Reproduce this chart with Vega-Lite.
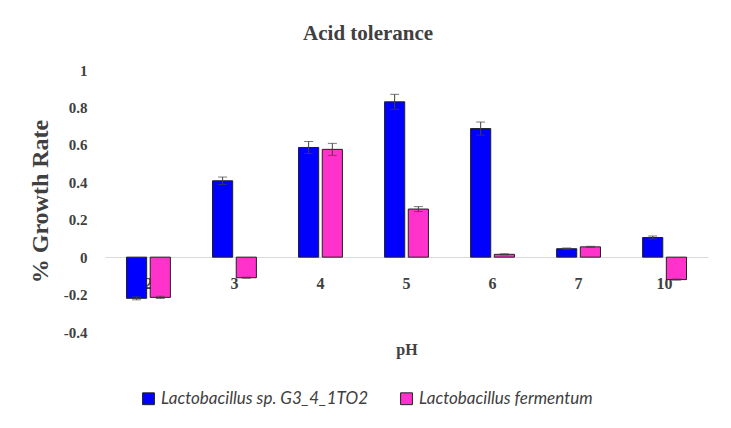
{
  "$schema": "https://vega.github.io/schema/vega-lite/v6.json",
  "width": 603,
  "height": 262,
  "autosize": {"type": "none"},
  "padding": {"left": 105, "top": 70, "right": 23, "bottom": 96},
  "background": "white",
  "title": {
    "text": "Acid tolerance",
    "font": "Liberation Serif",
    "fontSize": 21,
    "fontWeight": "bold",
    "color": "#404040",
    "anchor": "middle",
    "frame": "bounds",
    "offset": 19
  },
  "data": {
    "values": [
      {"pH": 2, "strain": "Lactobacillus sp. G3_4_1TO2", "value": -0.22, "err": 0.008},
      {"pH": 2, "strain": "Lactobacillus fermentum", "value": -0.215, "err": 0.006},
      {"pH": 3, "strain": "Lactobacillus sp. G3_4_1TO2", "value": 0.408, "err": 0.02},
      {"pH": 3, "strain": "Lactobacillus fermentum", "value": -0.11, "err": 0.003},
      {"pH": 4, "strain": "Lactobacillus sp. G3_4_1TO2", "value": 0.586, "err": 0.032},
      {"pH": 4, "strain": "Lactobacillus fermentum", "value": 0.576, "err": 0.032},
      {"pH": 5, "strain": "Lactobacillus sp. G3_4_1TO2", "value": 0.83, "err": 0.04},
      {"pH": 5, "strain": "Lactobacillus fermentum", "value": 0.257, "err": 0.013},
      {"pH": 6, "strain": "Lactobacillus sp. G3_4_1TO2", "value": 0.687, "err": 0.035},
      {"pH": 6, "strain": "Lactobacillus fermentum", "value": 0.015, "err": 0.003},
      {"pH": 7, "strain": "Lactobacillus sp. G3_4_1TO2", "value": 0.045, "err": 0.004},
      {"pH": 7, "strain": "Lactobacillus fermentum", "value": 0.055, "err": 0.003},
      {"pH": 10, "strain": "Lactobacillus sp. G3_4_1TO2", "value": 0.105, "err": 0.008},
      {"pH": 10, "strain": "Lactobacillus fermentum", "value": -0.12, "err": 0.003}
    ]
  },
  "transform": [
    {"calculate": "datum.value - datum.err", "as": "lo"},
    {"calculate": "datum.value + datum.err", "as": "hi"}
  ],
  "encoding": {
    "x": {
      "field": "pH",
      "type": "ordinal",
      "scale": {"paddingInner": 0.49, "paddingOuter": 0.25},
      "axis": {
        "title": "pH",
        "labelAngle": 0,
        "offset": -75,
        "ticks": false,
        "domainColor": "#d9d9d9",
        "domainWidth": 1,
        "labelFont": "Liberation Serif",
        "labelFontSize": 16,
        "labelFontWeight": "bold",
        "labelColor": "#404040",
        "labelPadding": 18,
        "titleFont": "Liberation Serif",
        "titleFontSize": 16,
        "titleFontWeight": "bold",
        "titleColor": "#404040",
        "titlePadding": 50
      }
    },
    "xOffset": {
      "field": "strain",
      "type": "nominal",
      "sort": ["Lactobacillus sp. G3_4_1TO2", "Lactobacillus fermentum"],
      "scale": {"paddingInner": 0.15, "paddingOuter": 0}
    },
    "y": {
      "field": "value",
      "type": "quantitative",
      "scale": {"domain": [-0.4, 1], "nice": false, "zero": false},
      "axis": {
        "title": "% Growth Rate",
        "values": [-0.4, -0.2, 0, 0.2, 0.4, 0.6, 0.8, 1],
        "labelExpr": "toString(round(datum.value*10)/10)",
        "labelOverlap": false,
        "grid": false,
        "domain": false,
        "ticks": false,
        "labelFont": "Liberation Serif",
        "labelFontSize": 15,
        "labelFontWeight": "bold",
        "labelColor": "#404040",
        "labelPadding": 18,
        "titleFont": "Liberation Serif",
        "titleFontSize": 24,
        "titleFontWeight": "bold",
        "titleColor": "#404040",
        "titlePadding": 11
      }
    }
  },
  "layer": [
    {
      "mark": {"type": "bar", "stroke": "#202020", "strokeWidth": 1},
      "encoding": {
        "color": {
          "field": "strain",
          "type": "nominal",
          "sort": ["Lactobacillus sp. G3_4_1TO2", "Lactobacillus fermentum"],
          "scale": {
            "domain": ["Lactobacillus sp. G3_4_1TO2", "Lactobacillus fermentum"],
            "range": ["#0000ff", "#ff33cc"]
          },
          "legend": {
            "title": null,
            "orient": "none",
            "legendX": 35,
            "legendY": 320,
            "direction": "horizontal",
            "symbolType": "square",
            "symbolSize": 140,
            "symbolStrokeColor": "#202020",
            "symbolStrokeWidth": 1,
            "labelFont": "Lato",
            "labelFontStyle": "italic",
            "labelFontSize": 17,
            "labelColor": "#404040",
            "labelLimit": 400,
            "columnPadding": 30,
            "labelOffset": 4
          }
        }
      }
    },
    {
      "mark": {"type": "rule", "color": "#404040", "strokeWidth": 1},
      "encoding": {
        "y": {"field": "lo", "type": "quantitative"},
        "y2": {"field": "hi"}
      }
    },
    {
      "mark": {"type": "tick", "color": "#404040", "size": 9, "thickness": 1, "orient": "horizontal"},
      "encoding": {"y": {"field": "lo", "type": "quantitative"}}
    },
    {
      "mark": {"type": "tick", "color": "#404040", "size": 9, "thickness": 1, "orient": "horizontal"},
      "encoding": {"y": {"field": "hi", "type": "quantitative"}}
    }
  ],
  "config": {
    "view": {"stroke": null},
    "axis": {"labelOverlap": false},
    "axisY": {"labelOverlap": false}
  }
}
